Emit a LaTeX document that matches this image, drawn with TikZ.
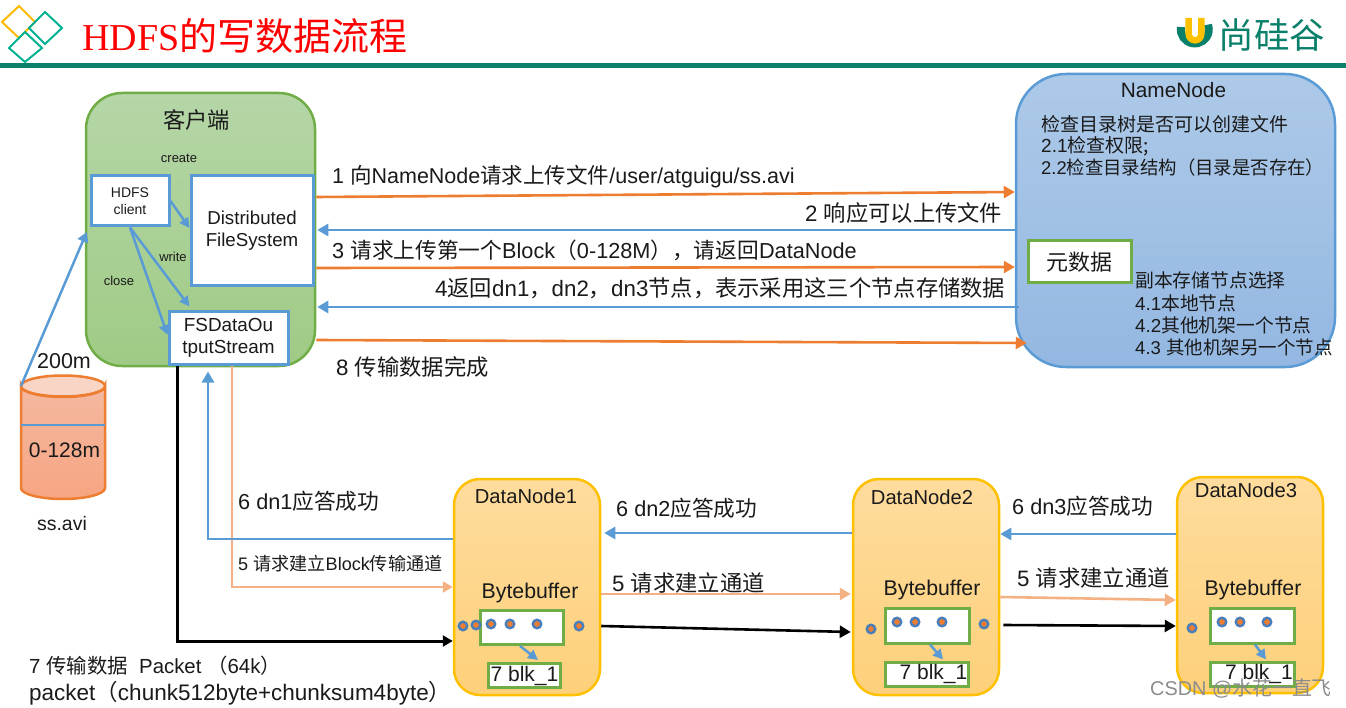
\documentclass[tikz,border=0pt]{standalone}
\usepackage{fontspec}
\setmainfont{Liberation Sans}
\newfontfamily\cjkf{Noto Sans CJK SC}
\newfontfamily\serf{Liberation Serif}
\usetikzlibrary{arrows.meta,shapes.geometric}
\newcommand{\cj}[1]{{\cjkf #1}}
\newcommand{\fs}[1]{\fontsize{#1pt}{#1pt}\selectfont}
\definecolor{blueline}{HTML}{5B9BD5}
\definecolor{orangeline}{HTML}{ED7D31}
\definecolor{peach}{HTML}{F4B183}
\definecolor{greenline}{HTML}{70AD47}
\definecolor{goldline}{HTML}{FFC000}
\definecolor{tealb}{HTML}{00B294}
\definecolor{headbar}{HTML}{0A7F6A}
\definecolor{txt}{HTML}{1A1A1A}
\definecolor{cltop}{HTML}{B5D6A7}
\definecolor{clbot}{HTML}{9FCB85}
\definecolor{nntop}{HTML}{ADC9E8}
\definecolor{nnbot}{HTML}{94B8E2}
\definecolor{dntop}{HTML}{FFDC9E}
\definecolor{dnbot}{HTML}{FDD07A}
\definecolor{cytop}{HTML}{F4B8A0}
\definecolor{cybot}{HTML}{F7A582}
\definecolor{cyend}{HTML}{F9D5C6}
\definecolor{dotring}{HTML}{4A7EBB}
\tikzset{
  lbl/.style={inner sep=0pt,text=txt,anchor=west,font=\fs{22.3}},
  clbl/.style={inner sep=0pt,text=txt,align=center},
  panel/.style={rounded corners=#1,inner sep=0pt,line width=2.5pt},
  clientp/.style={panel=36pt,draw=greenline,top color=cltop,bottom color=clbot,minimum width=229pt,minimum height=273pt},
  namep/.style={panel=50pt,draw=blueline,top color=nntop,bottom color=nnbot,minimum width=319pt,minimum height=293pt},
  datap/.style={panel=26pt,draw=goldline,top color=dntop,bottom color=dnbot,minimum width=146pt,minimum height=216pt},
  bluebox/.style={draw=blueline,fill=white,line width=3pt,inner sep=0pt,align=center,text=txt},
  greenbox/.style={draw=greenline,fill=white,line width=3pt,inner sep=0pt,text=txt},
  arr/.style={line width=2.6pt,-{Triangle[length=11pt,width=12pt]}},
  thin arr/.style={line width=2.5pt,-{Triangle[length=10pt,width=10pt]}},
  dot/.style={circle,draw=dotring,fill=orangeline,line width=2.4pt,minimum size=8.5pt,inner sep=0pt},
  diamondp/.style={line width=2pt,fill=none},
}
\begin{document}
\begin{tikzpicture}[x=1pt,y=-1pt]
\useasboundingbox (0,0) rectangle (1346,708);
% header
\fill[headbar] (0,63) rectangle (1346,68);
\draw[diamondp,draw=goldline!90!orange] (19,6)--(35,22)--(19,38)--(2,22)--cycle;
\draw[diamondp,draw=tealb] (45,12)--(62,28)--(45,44)--(29,28)--cycle;
\draw[diamondp,draw=tealb] (25,32)--(42,48)--(25,62)--(9,48)--cycle;
\node[inner sep=0pt,anchor=west,text=red,font=\fs{38}] (title) at (82,36) {{\serf HDFS}\cj{的写数据流程}};
% logo
\draw[headbar,line width=8pt] (1181,27) arc[start angle=170,end angle=380,radius=14pt];
\draw[goldline,line width=6.5pt] (1188.7,18) -- (1188.7,34) arc[start angle=180,end angle=360,radius=6.3pt] -- (1201.3,18);
\node[inner sep=0pt,text=headbar,font=\fs{35.5}] (logo) at (1272,35) {\cj{尚硅谷}};
% file cylinder
\coordinate (filetop) at (21,386);
\path[top color=cytop,bottom color=cybot,draw=orangeline,line width=2.5pt] (21,386) -- (21,488) arc[start angle=180,end angle=360,x radius=42pt,y radius=11pt] -- (105,386) arc[start angle=0,end angle=-180,x radius=42pt,y radius=11pt] -- cycle;
\path[fill=cyend,draw=orangeline,line width=2.5pt] (63,386) ellipse[x radius=42pt,y radius=10.5pt];
\draw[blueline,line width=2pt] (21,425) -- (105,425);
\node[clbl,font=\fs{21.5}] (big) at (64,361) {200m};
\node[clbl,font=\fs{21}] (part) at (64.5,450) {0-128m};
\node[clbl,font=\fs{19.5}] (file) at (62,524) {ss.avi};
% panels
\node[clientp] (client) at (200.5,229.5) {};
\node[namep] (nn) at (1175.5,220.5) {};
\node[datap] (dn1) at (527,587) {};
\node[datap] (dn2) at (926,587) {};
\node[datap] (dn3) at (1250,585) {};
% client contents
\node[clbl,font=\fs{22.3}] (clientt) at (196.5,120) {\cj{客户端}};
\node[bluebox,minimum width=78pt,minimum height=50pt,font=\fs{14}] (hdfs) at (130,201) {HDFS\\[3pt]client};
\node[bluebox,minimum width=122pt,minimum height=110pt,font=\fs{18.7}] (dfs) at (252,231) {Distributed\\[3pt]FileSystem};
\node[bluebox,minimum width=119pt,minimum height=52pt,font=\fs{18.9}] (fsd) at (228.5,338) {FSDataOu\\[3pt]tputStream};
\node[clbl,font=\fs{13}] (create) at (179,158) {create};
\node[clbl,font=\fs{13}] (write) at (173,257) {write};
\node[clbl,font=\fs{13}] (close) at (119,281) {close};
% namenode contents
\node[clbl,font=\fs{20.8}] (nnt) at (1173.5,90) {NameNode};
\node[lbl,font=\fs{19}] (c1) at (1041,124) {\cj{检查目录树是否可以创建文件}};
\node[lbl,font=\fs{19}] (c2) at (1041,146) {2.1\cj{检查权限;}};
\node[lbl,font=\fs{18.4}] (c3) at (1041,168) {2.2\cj{检查目录结构（目录是否存在）}};
\node[greenbox,minimum width=103pt,minimum height=42pt,font=\fs{22}] (meta) at (1079.5,262) {\hspace{-1pt}\cj{元数据}};
\node[lbl,font=\fs{18.8}] (r0) at (1135,280) {\cj{副本存储节点选择}};
\node[lbl,font=\fs{18.8}] (r1) at (1135,303) {4.1\cj{本地节点}};
\node[lbl,font=\fs{18.8}] (r2) at (1135,325) {4.2\cj{其他机架一个节点}};
\node[lbl,font=\fs{18.5}] (r3) at (1135,347) {4.3 \cj{其他机架另一个节点}};
% datanode contents
\node[clbl,font=\fs{20.2}] (d1t) at (526,496) {DataNode1};
\node[clbl,font=\fs{20.2}] (d2t) at (922,497) {DataNode2};
\node[clbl,font=\fs{20.2}] (d3t) at (1246,490) {DataNode3};
\node[clbl,font=\fs{21.3}] (b1t) at (530,593) {Bytebuffer};
\node[clbl,font=\fs{21.3}] (b2t) at (932,590) {Bytebuffer};
\node[clbl,font=\fs{21.3}] (b3t) at (1253,590) {Bytebuffer};
\node[greenbox,minimum width=83pt,minimum height=34pt] (buf1) at (521.5,627.5) {};
\node[greenbox,minimum width=84pt,minimum height=35pt] (buf2) at (927,625.5) {};
\node[greenbox,minimum width=84pt,minimum height=35pt] (buf3) at (1252,625.5) {};
\node[greenbox,minimum width=72pt,minimum height=24pt,font=\fs{21}] (blk1) at (524.5,675.5) {7 blk\_1};
\node[greenbox,minimum width=83pt,minimum height=24pt,font=\fs{21}] (blk2) at (926.5,674) {\hspace{14pt}7 blk\_1};
\node[greenbox,minimum width=84pt,minimum height=24pt,font=\fs{21}] (blk3) at (1252,674) {\hspace{14pt}7 blk\_1};
\foreach \n/\x/\y in {a/463/626,b/476/625,c/491/624,d/510/624,e/537/624,f/579/626,g/871/629,h/897/622,i/915/622,j/942/622,k/984/624,l/1192/628,m/1222/622,o/1240/622,p/1267/622}
  \node[dot] (dot\n) at (\x,\y) {};
% connectors in client
\draw[blueline,thin arr] (hdfs.east) -- ([yshift=3pt]dfs.west);
\draw[blueline,thin arr] (hdfs.south) -- ([xshift=-39pt,yshift=4pt]fsd.north);
\draw[blueline,thin arr] (hdfs.south) -- ([yshift=3pt]fsd.west);
\draw[blueline,line width=2.5pt,-{Triangle[length=10pt,width=11pt]}] (filetop) -- ([yshift=-2.5pt,xshift=2pt]client.west);
% client to namenode
\draw[orangeline,arr] ([yshift=32.5pt]client.east) -- ([yshift=28.5pt]nn.west);
\draw[blueline,arr] ([yshift=-9.5pt]nn.west) -- ([yshift=-.5pt,xshift=1pt]client.east);
\draw[orangeline,arr] ([yshift=-38.5pt]client.east) -- ([yshift=-46.5pt]nn.west);
\draw[blueline,arr] ([yshift=-86.5pt,xshift=4pt]nn.west) -- ([yshift=-77.5pt,xshift=1pt]client.east);
\draw[orangeline,arr] ([yshift=-110.5pt]client.east) -- ([yshift=-122.5pt,xshift=12pt]nn.west);
% client to datanode 1
\draw[black,line width=3pt,-{Triangle[length=10pt,width=11pt]}] ([xshift=-51.5pt]fsd.south) |- ([yshift=-54pt]dn1.west);
\draw[peach,line width=2.2pt,-{Triangle[length=10pt,width=11pt]}] ([xshift=3.5pt]fsd.south) |- (dn1.west);
\draw[blueline,arr] ([yshift=48pt]dn1.west) -| ([xshift=-20.5pt,yshift=-6pt]fsd.south);
% pipeline
\draw[blueline,arr] ([yshift=54pt]dn2.west) -- ([yshift=54pt,xshift=3pt]dn1.east);
\draw[peach,arr] ([yshift=-7pt]dn1.east) -- ([yshift=-7pt,xshift=-1pt]dn2.west);
\draw[black,arr] ([yshift=-39pt]dn1.east) -- ([yshift=-45pt,xshift=-1pt]dn2.west);
\draw[blueline,arr] ([yshift=51pt]dn3.west) -- ([yshift=53pt]dn2.east);
\draw[peach,arr] ([yshift=-10pt]dn2.east) -- ([yshift=-15pt]dn3.west);
\draw[black,arr] ([yshift=-38pt,xshift=3pt]dn2.east) -- ([yshift=-41pt]dn3.west);
\draw[blueline,thin arr] ([xshift=-1.5pt]buf1.south) -- ([xshift=13.5pt,yshift=2pt]blk1.north);
\draw[blueline,thin arr] ([xshift=3pt]buf2.south) -- ([xshift=16.5pt,yshift=1pt]blk2.north);
\draw[blueline,thin arr] ([xshift=3pt]buf3.south) -- ([xshift=14pt,yshift=1pt]blk3.north);
% arrow labels
\node[lbl,font=\fs{21.5}] (l1) at (332,177) {1 \cj{向}NameNode\cj{请求上传文件}/user/atguigu/ss.avi};
\node[lbl] (l2) at (805,213) {2 \cj{响应可以上传文件}};
\node[lbl,font=\fs{21.7}] (l3) at (332,250) {3 \cj{请求上传第一个}Block\cj{（}0-128M\cj{），请返回}DataNode};
\node[lbl] (l4) at (435,288) {4\cj{返回}dn1\cj{，}dn2\cj{，}dn3\cj{节点，表示采用这三个节点存储数据}};
\node[lbl] (l8) at (336,367) {8 \cj{传输数据完成}};
\node[lbl,font=\fs{21.7}] (l6a) at (238,501) {6 dn1\cj{应答成功}};
\node[lbl,font=\fs{18.1}] (l5a) at (238,564) {5 \cj{请求建立}Block\cj{传输通道}};
\node[lbl] (l5b) at (612,583) {5 \cj{请求建立通道}};
\node[lbl] (l5c) at (1017,578) {5 \cj{请求建立通道}};
\node[lbl,font=\fs{21.7}] (l6b) at (616,508) {6 dn2\cj{应答成功}};
\node[lbl,font=\fs{21.7}] (l6c) at (1012,506) {6 dn3\cj{应答成功}};
\node[lbl,font=\fs{20.4}] (l7a) at (29,666) {7 \cj{传输数据} ~Packet \cj{（}64k\cj{）}};
\node[lbl,font=\fs{22.5}] (l7b) at (29,693) {packet\cj{（}chunk512byte+chunksum4byte\cj{）}};
\node[inner sep=0pt,anchor=west,text=black!45,font=\fs{19.9}] (wm) at (1150,689) {CSDN @\cj{水花一直飞}};
\end{tikzpicture}
\end{document}
